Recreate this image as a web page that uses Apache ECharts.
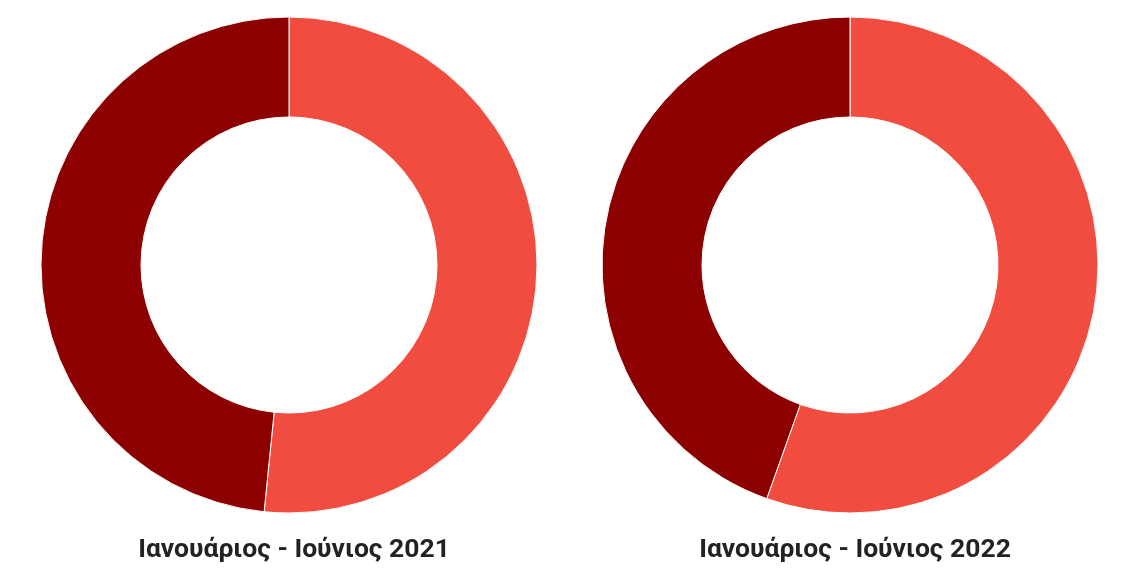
<!DOCTYPE html>
<html>
<head>
<meta charset="utf-8">
<script src="https://cdn.jsdelivr.net/npm/echarts@6/dist/echarts.min.js"></script>
<style>
html,body{margin:0;padding:0;background:#fff;}
#chart{width:1140px;height:570px;}
</style>
</head>
<body>
<div id="chart"></div>
<script>
const categories = ["Κατηγορία Α", "Κατηγορία Β"];
const titles = ["Ιανουάριος - Ιούνιος 2021", "Ιανουάριος - Ιούνιος 2022"];
const values2021 = [51.6, 48.4];
const values2022 = [55.45, 44.55];
const colors = ["#F04C3F", "#8C0000"];

const chart = echarts.init(document.getElementById('chart'));
const centersX = [289, 850];
const allValues = [values2021, values2022];
chart.setOption({
  animation: false,
  color: colors,
  title: titles.map((t, i) => ({
    text: t,
    left: centersX[i],
    top: 532,
    textAlign: 'center',
    textStyle: { fontFamily: 'Roboto', fontWeight: 'bold', fontSize: 26.5, color: '#222222' }
  })),
  series: allValues.map((vals, i) => ({
    type: 'pie',
    center: [centersX[i], 265],
    radius: [148, 248],
    startAngle: 90,
    clockwise: true,
    label: { show: false },
    labelLine: { show: false },
    silent: true,
    itemStyle: { borderColor: '#ffffff', borderWidth: 1 },
    data: categories.map((c, j) => ({ name: c, value: vals[j] }))
  }))
});
</script>
</body>
</html>
